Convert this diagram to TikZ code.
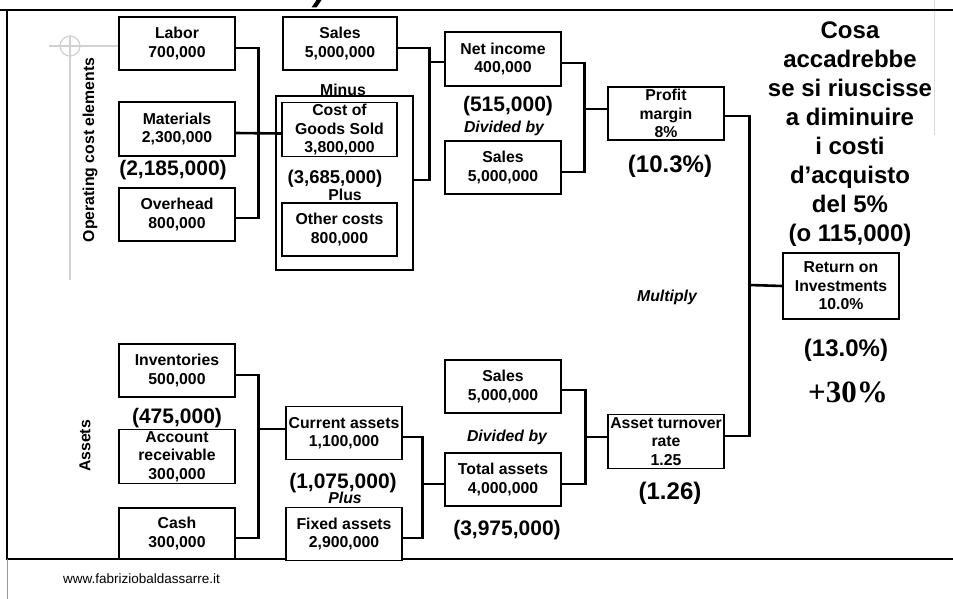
\documentclass[tikz,border=0pt]{standalone}
\usepackage{fontspec}
\setmainfont{Liberation Sans}
\newfontfamily\timesfont{Liberation Serif}
\newcommand\boxfont{\bfseries\fontsize{15.8}{18.5}\selectfont}
\tikzset{
  box/.style={draw=black, line width=1.2pt, fill=white, inner sep=0pt, align=center,
              font=\boxfont, minimum width=116pt, minimum height=53pt},
  conn/.style={line width=2.6pt},
  frameline/.style={line width=2pt},
  deco/.style={draw=black!18, line width=1.2pt},
  opword/.style={font=\boxfont},
  opital/.style={font=\boxfont\itshape},
  bignum/.style={font=\bfseries\fontsize{21}{24}\selectfont},
  midnum/.style={font=\bfseries\fontsize{18.5}{21}\selectfont},
  pctnum/.style={font=\bfseries\fontsize{24}{29}\selectfont},
  sidelabel/.style={font=\boxfont, rotate=90},
}
\begin{document}
\begin{tikzpicture}[x=1pt,y=-1pt]
\useasboundingbox (0,0) rectangle (953,599);

% page frame and light guide marks
\draw[deco] (70,46) circle (10);
\draw[deco] (49,46) -- (119,46);
\draw[deco] (70,36) -- (70,280);
\draw[draw=black!15, line width=1pt] (934,0) -- (934,135);
\draw[frameline] (0,10) -- (953,10);
\draw[frameline] (7,10) -- (7,559) -- (953,559);
\draw[draw=black!40, line width=1pt] (7,559) -- (7,599);
\fill (311.5,7.5) -- (316.5,7.5) -- (321.5,0) -- (316.5,0) -- cycle;

% side captions
\node[sidelabel] (opcap) at (90,150) {Operating cost elements};
\node[sidelabel] (ascap) at (85,446) {Assets};

% cost of goods sold group
\node[draw=black, line width=1.2pt, minimum width=137pt, minimum height=174pt, inner sep=0pt] (group) at (344.5,183) {};

% boxes: operating costs
\node[box] (labor) at (177,43.5) {Labor\\700,000};
\node[box, minimum height=54pt] (materials) at (177,129) {Materials\\2,300,000};
\node[box] (overhead) at (177,214.5) {Overhead\\800,000};
\node[box, minimum width=114pt] (sales1) at (340,43.5) {Sales\\5,000,000};
\node[box, minimum width=115pt, minimum height=54pt] (cgs) at (339.5,129.5) {Cost of\\Goods Sold\\3,800,000};
\node[box, minimum width=115pt] (other) at (339.5,229.5) {Other costs\\800,000};
\node[box, minimum height=54pt] (netinc) at (503,59) {Net income\\400,000};
\node[box] (sales2) at (503,167.5) {Sales\\5,000,000};
\node[box] (pm) at (666,113.5) {Profit\\margin\\8\%};
\node[box, minimum height=66pt] (roi) at (841,286) {Return on\\Investments\\10.0\%};

% boxes: assets
\node[box] (inv) at (177,370.5) {Inventories\\500,000};
\node[box, minimum height=54pt] (ar) at (177,456.5) {Account\\receivable\\300,000};
\node[box, minimum height=51pt] (cash) at (177,533.5) {Cash\\300,000};
\node[box] (cur) at (344,433) {Current assets\\1,100,000};
\node[box] (fixed) at (344,534) {Fixed assets\\2,900,000};
\node[box] (sales3) at (503,386.5) {Sales\\5,000,000};
\node[box] (total) at (503,479.5) {Total assets\\4,000,000};
\node[box, minimum height=54pt] (atr) at (666,441.5) {Asset turnover\\rate\\1.25};

% junction points on the brackets
\coordinate (jsales) at (429,62);
\coordinate (jni) at (584,109);
\coordinate (jroi) at (749,285);
\coordinate (jsales3) at (585,437);
\coordinate (jca) at (422,484);
\coordinate (jinv) at (258,429);

% connectors: profit margin branch
\draw[conn] ([yshift=-4.5pt]labor.east) -- ++(23,0) |- ([yshift=-3.5pt]overhead.east);
\draw[conn] ([yshift=-4pt]materials.east) -- ([yshift=-4pt]cgs.west);
\draw[conn] ([yshift=-4.5pt]sales1.east) -- ++(32,0) |- ([yshift=3pt]group.east);
\draw[conn] (jsales) -- ([yshift=-3pt]netinc.west);
\draw[conn] ([yshift=-4pt]netinc.east) -- ++(23,0) |- ([yshift=-4.5pt]sales2.east);
\draw[conn] (jni) -- ([yshift=4.5pt]pm.west);
\draw[conn] ([yshift=-2.5pt]pm.east) -- ++(25,0) |- ([yshift=5.5pt]atr.east);
\draw[conn] (jroi) -- (roi.west);

% connectors: asset turnover branch
\draw[conn] ([yshift=-4.5pt]inv.east) -- ++(23,0) |- ([yshift=-4.5pt]cash.east);
\draw[conn] (jinv) -- ([yshift=4pt]cur.west);
\draw[conn] ([yshift=-4pt]cur.east) -- ++(20,0) |- ([yshift=-4pt]fixed.east);
\draw[conn] (jca) -- ([yshift=-4.5pt]total.west);
\draw[conn] ([yshift=-3.5pt]sales3.east) -- ++(24,0) |- ([yshift=-4.5pt]total.east);
\draw[conn] (jsales3) -- ([yshift=4.5pt]atr.west);

% operators and scenario figures
\node[opword] (minus) at (343,90) {Minus};
\node[opword] (plus1) at (345,195) {Plus};
\node[opital] (div1) at (504,128) {Divided by};
\node[opital] (mult) at (667,297) {Multiply};
\node[opital] (div2) at (507,437) {Divided by};
\node[bignum] (n2185) at (173,170) {(2,185,000)};
\node[midnum] (n3685) at (335,179) {(3,685,000)};
\node[bignum] (n515) at (508,106) {(515,000)};
\node[pctnum] (n103) at (670,166) {(10.3\%)};
\node[pctnum] (n130) at (846,350) {(13.0\%)};
\node[font=\timesfont\bfseries\fontsize{31}{34}\selectfont] (gain) at (848,392) {+30\%};
\node[bignum] (n475) at (177,418) {(475,000)};
\node[bignum] (n1075) at (343,483) {(1,075,000)};
\node[opital] (plus2) at (345,498) {Plus};
\node[bignum] (n3975) at (507,530) {(3,975,000)};
\node[pctnum] (n126) at (670,493) {(1.26)};

% scenario question
\node[pctnum, align=center] (question) at (850,134) {Cosa\\accadrebbe\\se si riuscisse\\a diminuire\\i costi\\d’acquisto\\del 5\%\\(o 115,000)};

% footer
\node[font=\fontsize{13.5}{16}\selectfont, anchor=west, inner sep=0pt] (footer) at (63,579) {www.fabriziobaldassarre.it};
\end{tikzpicture}
\end{document}
